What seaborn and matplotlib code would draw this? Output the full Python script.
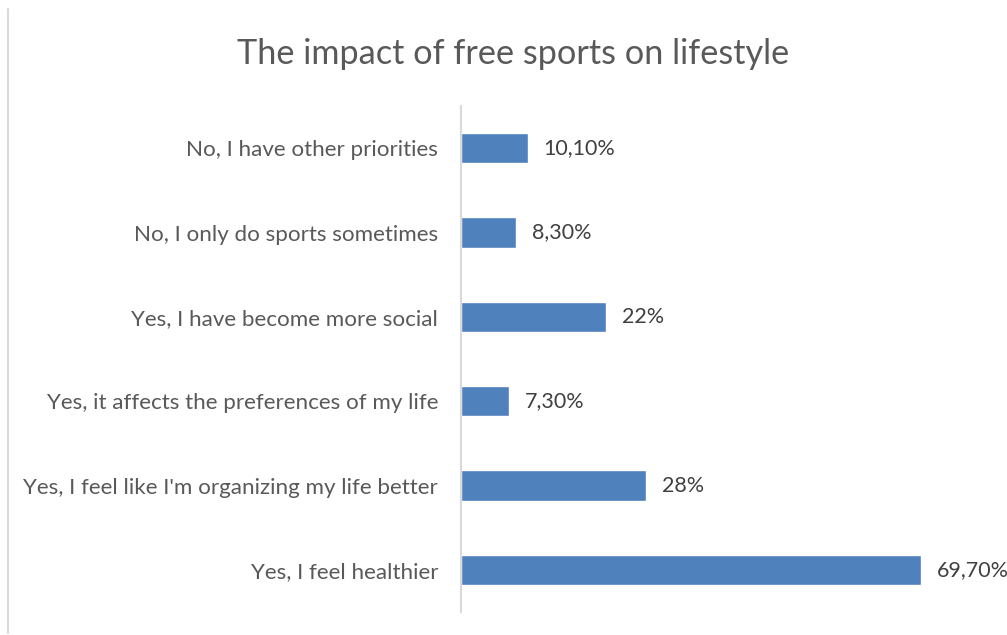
import matplotlib
matplotlib.use("Agg")
import matplotlib.pyplot as plt
from matplotlib.lines import Line2D
import seaborn as sns
import pandas as pd

categories = [
    "No, I have other priorities",
    "No, I only do sports sometimes",
    "Yes, I have become more social",
    "Yes, it affects the preferences of my life",
    "Yes, I feel like I'm organizing my life better",
    "Yes, I feel healthier",
]
values = [10.1, 8.3, 22.0, 7.3, 28.0, 69.7]
value_labels = ["10,10%", "8,30%", "22%", "7,30%", "28%", "69,70%"]
title = "The impact of free sports on lifestyle"

sns.set_theme(style="white")
plt.rcParams["font.family"] = ["Lato", "DejaVu Sans"]

df = pd.DataFrame({"answer": categories, "share": values})

fig = plt.figure(figsize=(10.07, 6.35), dpi=100)
ax = fig.add_axes([0.4578, 0.0362, 0.5242, 0.7968])

sns.barplot(data=df, x="share", y="answer", orient="h", color="#4F81BD",
            saturation=1, width=0.36, ax=ax)

ax.set_xlim(0, 80)
ax.set_ylim(5.5, -0.5)
ax.set_xlabel("")
ax.set_ylabel("")
ax.set_xticks([])
ax.tick_params(axis="y", length=0, pad=16.5, labelsize=16.1, labelcolor="#595959")
for side in ("top", "right", "bottom"):
    ax.spines[side].set_visible(False)
ax.spines["left"].set_color("#D9D9D9")
ax.spines["left"].set_linewidth(1.5)

for i, (v, lab) in enumerate(zip(values, value_labels)):
    ax.annotate(lab, xy=(v, i), xytext=(11.5, 0), textcoords="offset points",
                va="center", ha="left", fontsize=15.5, color="#404040",
                annotation_clip=False)

fig.text(0.51, 0.915, title, ha="center", va="center", fontsize=24.7,
         color="#595959")

# thin frame edge on the left
fig.add_artist(Line2D([8 / 1007, 8 / 1007], [2 / 635, 626 / 635],
                      transform=fig.transFigure, color="#D9D9D9", lw=1.5))

fig.savefig("out.png", dpi=100, facecolor="white")
